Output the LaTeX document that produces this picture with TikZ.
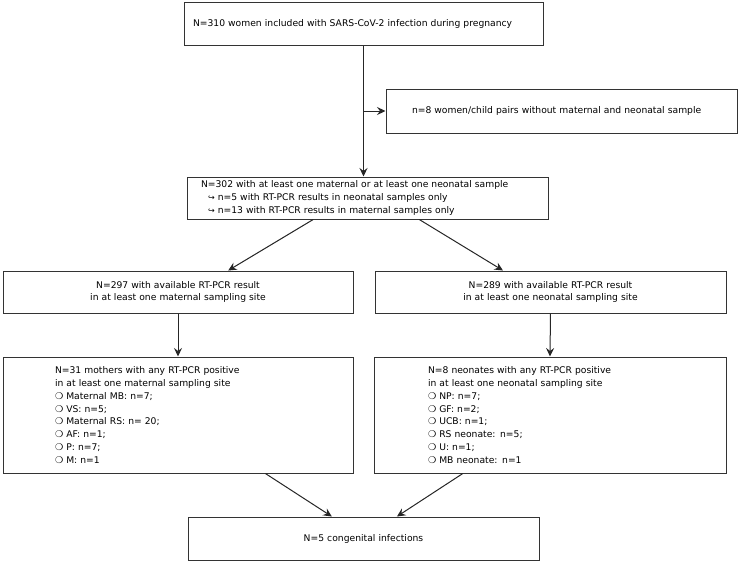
\documentclass[tikz,border=0pt]{standalone}
\usepackage{fontspec}
\setmainfont{DejaVu Sans}
\newfontfamily\symf{DejaVu Sans}
\usetikzlibrary{arrows.meta,calc}
\begin{document}
\begin{tikzpicture}[x=1pt,y=-1pt,
  every node/.style={font=\fontsize{9.2}{12.8}\selectfont, text=black},
  box/.style={draw=black!80, line width=1pt, rectangle, inner xsep=0pt, inner ysep=0pt, text width=#1},
  lbox/.style={box=#1, align=left},
  cbox/.style={box=#1, align=center},
  arr/.style={draw=black!85, line width=1pt, -{Stealth[length=8.5pt,width=8pt,inset=3pt]}}]
\useasboundingbox (0,0) rectangle (740,563);

\node[lbox=359, minimum height=43] (b1) at (363.5,23.5)
  {\leftskip=9pt N=310 women included with SARS-CoV-2 infection during pregnancy\par};
\node[lbox=351, minimum height=44] (b2) at (561.5,111)
  {\leftskip=26pt n=8 women/child pairs without maternal and neonatal sample\par};
\node[lbox=361, minimum height=42] (b3) at (367.5,198)
  {\leftskip=14pt N=302 with at least one maternal or at least one neonatal sample\\
   \hspace*{7pt}{\symf\footnotesize ↪} n=5 with RT-PCR results in neonatal samples only\\
   \hspace*{7pt}{\symf\footnotesize ↪} n=13 with RT-PCR results in maternal samples only\par};
\node[cbox=350, minimum height=42] (b4) at (178,292)
  {N=297 with available RT-PCR result\\ in at least one maternal sampling site};
\node[cbox=351, minimum height=42] (b5) at (550.5,292)
  {N=289 with available RT-PCR result\\ in at least one neonatal sampling site};
\node[lbox=350, minimum height=116] (b6) at (178,415)
  {\leftskip=52pt N=31 mothers with any RT-PCR positive\\
   in at least one maternal sampling site\\
   {\symf ❍} Maternal MB: n=7;\\
   {\symf ❍} VS: n=5;\\
   {\symf ❍} Maternal RS: n= 20;\\
   {\symf ❍} AF: n=1;\\
   {\symf ❍} P: n=7;\\
   {\symf ❍} M: n=1\par};
\node[lbox=352, minimum height=116] (b7) at (550,415)
  {\leftskip=54pt N=8 neonates with any RT-PCR positive\\
   in at least one neonatal sampling site\\
   {\symf ❍} NP: n=7;\\
   {\symf ❍} GF: n=2;\\
   {\symf ❍} UCB: n=1;\\
   {\symf ❍} RS neonate: n=5;\\
   {\symf ❍} U: n=1;\\
   {\symf ❍} MB neonate: n=1\par};
\node[cbox=351, minimum height=43] (b8) at (363.5,538.5)
  {N=5 congenital infections};

\coordinate (split) at (b1.south |- b2.west);
\draw[arr] (b1.south) -- (b1.south |- b3.north);
\draw[arr] (split) -- (b2.west);
\draw[arr] ($(b3.south west)!0.35!(b3.south east)$) -- ($(b4.north west)!0.643!(b4.north east)$);
\draw[arr] ($(b3.south west)!0.643!(b3.south east)$) -- ($(b5.north west)!0.365!(b5.north east)$);
\draw[arr] (b4.south) -- (b6.north);
\draw[arr] (b5.south) -- (b7.north);
\draw[arr] ($(b6.south west)!0.749!(b6.south east)$) -- ($(b8.north west)!0.41!(b8.north east)$);
\draw[arr] ($(b7.south west)!0.253!(b7.south east)$) -- ($(b8.north west)!0.595!(b8.north east)$);
\end{tikzpicture}
\end{document}
